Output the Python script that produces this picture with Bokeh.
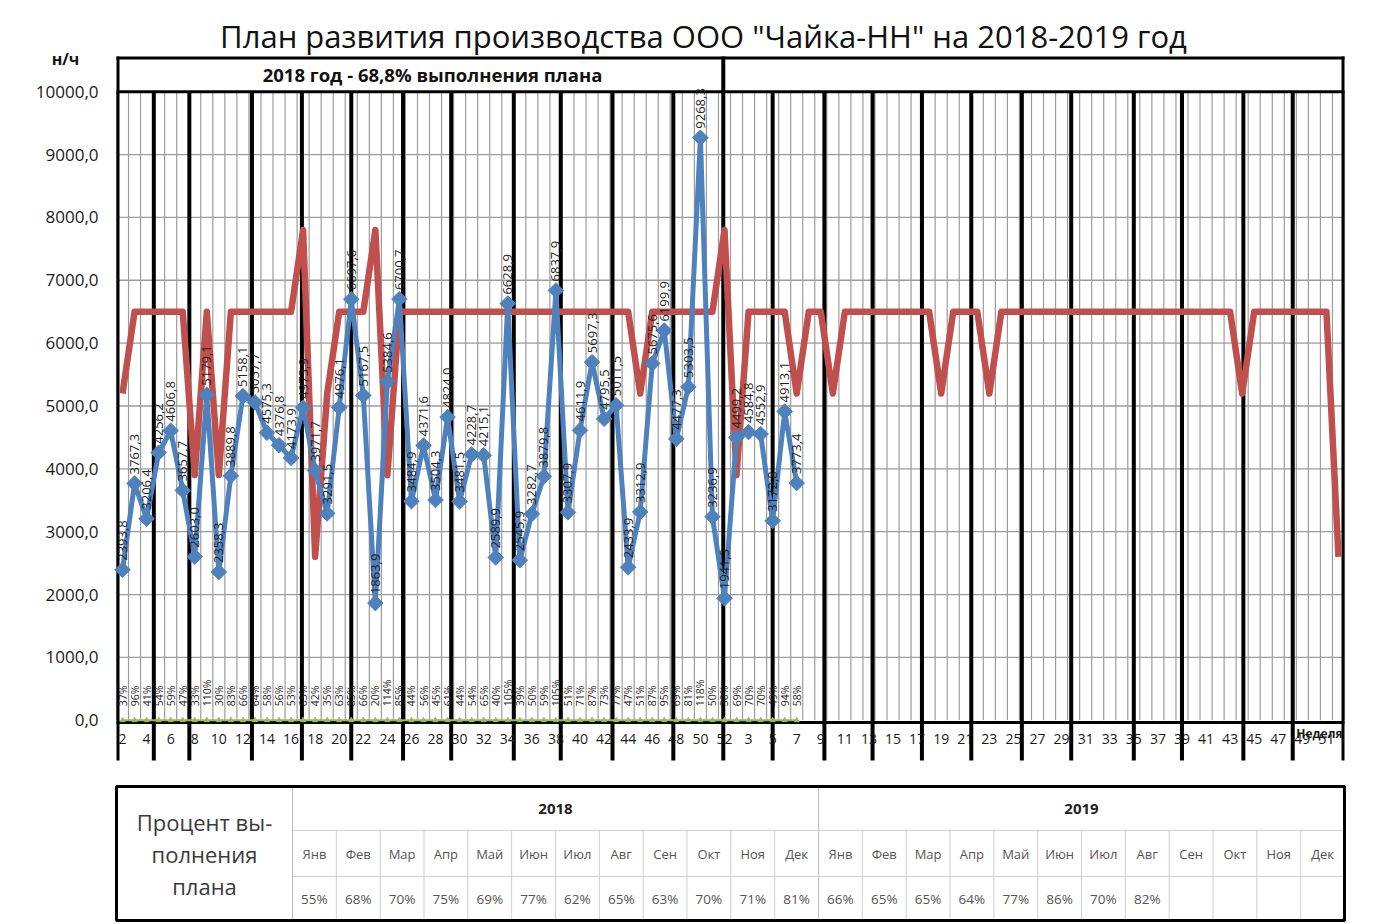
import numpy as np
from bokeh.plotting import figure
from bokeh.models import Range1d
from bokeh.embed import file_html
from bokeh.resources import INLINE
from bokeh.core.properties import value

# ---------------- data ----------------
TITLE = 'План развития производства ООО "Чайка-НН" на 2018-2019 год'
HEADER_2018 = "2018 год - 68,8% выполнения плана"
Y_UNIT = "н/ч"
X_UNIT = "Неделя"

weeks_2018 = list(range(2, 53))
weeks_2019 = list(range(2, 53))

fact_2018 = [2393.8, 3767.3, 3206.4, 4256.2, 4606.8, 3657.7, 2603.0, 5179.1, 2358.3, 3889.8,
             5158.1, 5057.7, 4575.3, 4376.8, 4173.9, 4973.9, 3971.7, 3291.5, 4976.1, 6697.6,
             5167.5, 1863.9, 5384.6, 6700.7, 3484.9, 4371.6, 3504.3, 4824.0, 3481.5, 4228.7,
             4215.1, 2589.9, 6628.9, 2545.9, 3282.7, 3879.8, 6837.9, 3307.9, 4611.9, 5697.3,
             4795.5, 5011.5, 2433.9, 3312.9, 5675.6, 6199.9, 4477.3, 5303.5, 9268.3, 3236.9,
             1941.3]
fact_2019 = [4499.2, 4584.8, 4552.9, 3172.8, 4913.1, 3773.4]

plan_2018 = [5200, 6500, 6500, 6500, 6500, 6500, 3900, 6500, 3900, 6500,
             6500, 6500, 6500, 6500, 6500, 7800, 2600, 5200, 6500, 6500,
             6500, 7800, 3900, 6500, 6500, 6500, 6500, 6500, 6500, 6500,
             6500, 6500, 6500, 6500, 6500, 6500, 6500, 6500, 6500, 6500,
             6500, 6500, 6500, 5200, 6500, 6500, 6500, 6500, 6500, 6500,
             7800]
plan_2019 = [3900, 6500, 6500, 6500, 6500, 5200, 6500, 6500, 5200, 6500,
             6500, 6500, 6500, 6500, 6500, 6500, 6500, 5200, 6500, 6500,
             6500, 5200, 6500, 6500, 6500, 6500, 6500, 6500, 6500, 6500,
             6500, 6500, 6500, 6500, 6500, 6500, 6500, 6500, 6500, 6500,
             6500, 6500, 5200, 6500, 6500, 6500, 6500, 6500, 6500, 6500,
             2600]

pct_2018 = [37, 96, 41, 54, 59, 47, 33, 110, 30, 83, 66, 64, 58, 56, 53, 63, 42, 35, 63, 85,
            66, 20, 114, 85, 44, 56, 45, 61, 44, 54, 65, 40, 105, 39, 50, 59, 105, 51, 71, 87,
            73, 77, 47, 51, 87, 95, 69, 81, 118, 50, 30]
pct_2019 = [69, 70, 70, 49, 94, 58]

# month separators, in week-slot units along the axis
month_marks = [3.6, 6.55, 11.75, 15.9, 20.0, 24.3, 28.3, 33.5, 37.4, 41.7, 46.75,
               55.0, 59.3, 63.3, 67.4, 71.5, 75.7, 79.8, 85.0, 89.0, 94.1, 98.2]
year_divider = 50.9

y_ticks = [0, 1000, 2000, 3000, 4000, 5000, 6000, 7000, 8000, 9000, 10000]

table_title = ["Процент вы-", "полнения", "плана"]
table_years = ["2018", "2019"]
months = ["Янв", "Фев", "Мар", "Апр", "Май", "Июн", "Июл", "Авг", "Сен", "Окт", "Ноя", "Дек"]
table_2018 = ["55%", "68%", "70%", "75%", "69%", "77%", "62%", "65%", "63%", "70%", "71%", "81%"]
table_2019 = ["66%", "65%", "65%", "64%", "77%", "86%", "70%", "82%", "", "", "", ""]

# ---------------- colours / fonts ----------------
BLUE = "#4F81BD"
RED = "#C0504D"
GREEN = "#9BBB59"
GRID = "#9c9c9c"
FONT = "Open Sans"
F = value(FONT)

# ---------------- layout helpers (page pixel -> data) ----------------
W, H = 1372, 922                 # figure covers page px 0..W, 0..H
FRAME_L, FRAME_R = 116, 1344     # plot area (page px)
FRAME_T, FRAME_B = 56, 760
n18, n19 = len(weeks_2018), len(weeks_2019)
ncat = n18 + n19
X_LO, X_HI = 0.5, ncat + 0.5
Y_LO, Y_HI = -640, 10560


def xd(px):
    return X_LO + (px - FRAME_L) / (FRAME_R - FRAME_L) * (X_HI - X_LO)


def yd(py):
    return Y_LO + (FRAME_B - py) / (FRAME_B - FRAME_T) * (Y_HI - Y_LO)


cats = np.arange(1, ncat + 1)
x18 = cats[:n18]
x19 = cats[n18:]
fact_x = list(x18) + list(x19[:len(fact_2019)])
fact_y = fact_2018 + fact_2019
pct_y = pct_2018 + pct_2019
plan_y = plan_2018 + plan_2019

p = figure(width=W, height=H, x_range=Range1d(xd(0), xd(W)), y_range=Range1d(yd(H), yd(0)),
           toolbar_location=None, output_backend="svg", x_axis_location=None, y_axis_location=None,
           min_border=0)
p.outline_line_color = None
p.background_fill_color = "white"
p.border_fill_color = "white"
p.grid.visible = False

# horizontal grid
gy_lines = y_ticks[1:-1]
p.segment(x0=X_LO, x1=X_HI, y0=gy_lines, y1=gy_lines, line_color=GRID, line_width=1.3)
# vertical thin grid lines at slot boundaries
bounds = np.arange(ncat + 1) + 0.5
p.segment(x0=bounds, x1=bounds, y0=0, y1=y_ticks[-1], line_color=GRID, line_width=1.2)

# month separators (thick black)
p.segment(x0=month_marks, x1=month_marks, y0=Y_LO, y1=y_ticks[-1], line_color="black", line_width=4)
p.segment(x0=[year_divider], x1=[year_divider], y0=Y_LO, y1=Y_HI, line_color="black", line_width=4)
# left / right borders
vb = [xd(FRAME_L + 1.5), xd(FRAME_R - 1.5)]
p.segment(x0=vb, x1=vb, y0=Y_LO, y1=yd(FRAME_T), line_color="black", line_width=3)
# header box lines and axis line
hl = [yd(FRAME_T + 1.5), y_ticks[-1], yd(722)]
p.segment(x0=X_LO, x1=X_HI, y0=hl, y1=hl, line_color="black", line_width=3)

# plan (red)
p.line(cats, plan_y, line_color=RED, line_width=6.5, line_join="round")
# green percent series (as fraction)
gx = fact_x
gy = [v / 100 for v in pct_y]
p.line(gx, gy, line_color=GREEN, line_width=2)
p.scatter(gx, gy, marker="triangle", size=5, fill_color=GREEN, line_color=GREEN)
# fact (blue)
p.line(fact_x, fact_y, line_color=BLUE, line_width=5, line_join="round")
p.scatter(fact_x, fact_y, marker="square", angle=np.pi / 4, size=11, fill_color=BLUE, line_color=BLUE)

# data labels
p.text(fact_x, fact_y, text=[f"{v:.1f}".replace(".", ",") for v in fact_y], angle=np.pi / 2,
       text_align="left", text_baseline="middle", y_offset=-9,
       text_font=F, text_font_size="13px", text_color="#1f1f1f")
p.text(gx, [0] * len(gx), text=[f"{v}%" for v in pct_y], angle=np.pi / 2,
       text_align="left", text_baseline="middle", y_offset=-14,
       text_font=F, text_font_size="10.5px", text_color="#1f1f1f")

# y tick labels
p.text([xd(98)] * len(y_ticks), y_ticks, text=[f"{t},0" for t in y_ticks], text_align="right",
       text_baseline="middle", text_font=F, text_font_size="17px", text_color="#1a1a1a")

# x tick labels (every other slot)
tick_labels = [str(w) for w in weeks_2018] + [str(w) for w in weeks_2019]
tx = list(cats[::2])
tl = tick_labels[::2]
p.text(tx, [yd(738)] * len(tx), text=tl, text_align="center", text_baseline="middle",
       text_font=F, text_font_size="14px", text_color="#1a1a1a")
p.text([xd(FRAME_R - 2)], [yd(733)], text=[X_UNIT], text_align="right", text_baseline="middle",
       text_font=F, text_font_size="12px", text_font_style="bold", text_color="#1a1a1a")

# header text, title, unit
p.text([xd(432)], [yd(74)], text=[HEADER_2018], text_align="center", text_baseline="middle",
       text_font=F, text_font_size="18.5px", text_font_style="bold", text_color="#111111")
p.text([xd(703)], [yd(35)], text=[TITLE], text_align="center", text_baseline="middle",
       text_font=F, text_font_size="31px", text_color="#111111")
p.text([xd(65)], [yd(58)], text=[Y_UNIT], text_align="center", text_baseline="middle",
       text_font=F, text_font_size="16px", text_font_style="bold", text_color="#111111")

# ---------------- table ----------------
T_TOP, T_R1, T_R2, T_BOT = 786, 830, 876, 920
HX = 292
ncol = len(months) * 2
cw = (FRAME_R - HX) / ncol
colx = [HX + i * cw for i in range(ncol + 1)]

inner = [xd(c) for i, c in enumerate(colx) if 0 < i < ncol and i != len(months)]
p.segment(x0=inner, x1=inner, y0=yd(T_R1), y1=yd(T_BOT), line_color="#cfcfcf", line_width=1)
mid = [xd(HX), xd(colx[len(months)])]
p.segment(x0=mid, x1=mid, y0=yd(T_TOP), y1=yd(T_BOT), line_color="#bdbdbd", line_width=1)
hr = [yd(T_R1), yd(T_R2)]
p.segment(x0=xd(HX), x1=xd(FRAME_R), y0=hr, y1=hr, line_color="#cfcfcf", line_width=1)
p.quad(left=[xd(FRAME_L)], right=[xd(FRAME_R)], top=[yd(T_TOP)], bottom=[yd(T_BOT)],
       fill_color=None, line_color="black", line_width=3)

p.text([xd((FRAME_L + HX) / 2)] * 3, [yd(821), yd(853), yd(885)], text=table_title,
       text_align="center", text_baseline="middle", text_font=F,
       text_font_size="22px", text_color="#3a3a3a")
yc = [xd((colx[0] + colx[len(months)]) / 2), xd((colx[len(months)] + colx[-1]) / 2)]
p.text(yc, [yd((T_TOP + T_R1) / 2)] * 2, text=table_years, text_align="center", text_baseline="middle",
       text_font=F, text_font_size="15px", text_font_style="bold", text_color="#222222")
cc = [xd((colx[i] + colx[i + 1]) / 2) for i in range(ncol)]
p.text(cc, [yd((T_R1 + T_R2) / 2)] * ncol, text=months + months, text_align="center",
       text_baseline="middle", text_font=F, text_font_size="13px", text_color="#555555")
p.text(cc, [yd((T_R2 + T_BOT) / 2)] * ncol, text=table_2018 + table_2019, text_align="center",
       text_baseline="middle", text_font=F, text_font_size="13.5px", text_color="#555555")

open("out.html", "w").write(file_html(p, INLINE))
